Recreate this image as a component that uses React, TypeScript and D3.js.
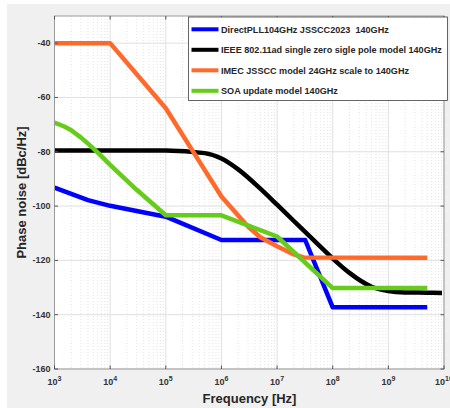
import React from "react";
import * as d3 from "d3";

const W = 450;
const H = 408;

const seriesNames = [
  "DirectPLL104GHz JSSCC2023  140GHz",
  "IEEE 802.11ad single zero sigle pole model 140GHz",
  "IMEC JSSCC model 24GHz scale to 140GHz",
  "SOA update model 140GHz",
];
const seriesColors = ["#0000ff", "#000000", "#ff6a2b", "#66cc1a"];

const blueFreq = [1e3, 2e3, 4e3, 1e4, 1e5, 1e6, 3.2e7, 1e8, 5e9];
const blueVal = [-93.2, -95.5, -97.8, -99.9, -103.9, -112.5, -112.5, -137.3, -137.3];

const blackFreq = [1e3, 1e4, 1e5, 5e5, 1e6, 2e6, 5e6, 1e7, 2e7, 5e7, 1e8, 2e8, 5e8, 1e9, 2e9, 5e9, 9.2e9];
const blackVal = [-79.5, -79.5, -79.5, -80.5, -82.5, -86.5, -93.6, -99.5, -105.5, -113.4, -119.3, -124.6, -129.7, -131.3, -131.8, -131.9, -132.0];

const orangeFreq = [1e3, 1e4, 1e5, 3e5, 1e6, 2e6, 3e6, 5e6, 1e7, 2e7, 3e7, 5e9];
const orangeVal = [-40, -40, -64, -79.5, -96.5, -103.5, -107.5, -111.5, -114.8, -117.8, -118.9, -119];

const greenFreq = [1e3, 1.5e3, 2e3, 3e3, 4e3, 6e3, 1e4, 3e4, 1e5, 1e6, 1e7, 1e8, 5e9];
const greenVal = [-69.3, -70.7, -72.1, -74.8, -77.0, -80.3, -84.8, -94.0, -103.4, -103.4, -111.2, -130.2, -130.2];

const yTicks = [-160, -140, -120, -100, -80, -60, -40];
const xTickExps = [3, 4, 5, 6, 7, 8, 9, 10];

const xLabel = "Frequency [Hz]";
const yLabel = "Phase noise [dBc/Hz]";

export default function App() {
  const left = 54.5, right = 444, top = 16, bottom = 369;
  const x = d3.scaleLog().domain([1e3, 1e10]).range([left, right]);
  const y = d3.scaleLinear().domain([-160, -30]).range([bottom, top]);

  const series = [
    { f: blueFreq, v: blueVal, curve: d3.curveLinear },
    { f: blackFreq, v: blackVal, curve: d3.curveMonotoneX },
    { f: orangeFreq, v: orangeVal, curve: d3.curveLinear },
    { f: greenFreq, v: greenVal, curve: d3.curveLinear },
  ];

  const minorX: number[] = [];
  for (let e = 3; e < 10; e++) for (let m = 2; m <= 9; m++) minorX.push(m * Math.pow(10, e));

  const font = "'Liberation Sans', Arial, sans-serif";
  const tickColor = "#333333";

  return (
    <svg width={W} height={H} style={{ position: "fixed", left: 0, top: 0 }} fontFamily={font}>
      <rect x={0} y={0} width={W} height={H} fill="#ffffff" />
      <rect x={7} y={4} width={W - 7} height={H - 4} fill="#f0f0f0" />
      <rect x={left} y={top} width={right - left} height={bottom - top} fill="#ffffff" />
      {minorX.map((f, i) => (
        <line key={"mx" + i} x1={x(f)} x2={x(f)} y1={top} y2={bottom} stroke="#d8d8d8" strokeWidth={0.7} strokeDasharray="1,2" />
      ))}
      {xTickExps.map((e) => (
        <line key={"gx" + e} x1={x(Math.pow(10, e))} x2={x(Math.pow(10, e))} y1={top} y2={bottom} stroke="#e0e0e0" strokeWidth={1} />
      ))}
      {yTicks.map((t) => (
        <line key={"gy" + t} x1={left} x2={right} y1={y(t)} y2={y(t)} stroke="#e0e0e0" strokeWidth={1} />
      ))}
      {series.map((s, i) => {
        const pts = s.f.map((f, j) => [x(f), y(s.v[j])] as [number, number]);
        const path = d3.line().curve(s.curve)(pts) || "";
        return <path key={"s" + i} d={path} fill="none" stroke={seriesColors[i]} strokeWidth={4.5} strokeLinejoin="round" />;
      })}
      <rect x={left} y={top} width={right - left} height={bottom - top} fill="none" stroke="#9a9a9a" strokeWidth={1} />
      {yTicks.map((t) => (
        <g key={"ty" + t}>
          <line x1={left} x2={left + 3.5} y1={y(t)} y2={y(t)} stroke="#555" strokeWidth={1} />
          <line x1={right} x2={right - 3.5} y1={y(t)} y2={y(t)} stroke="#555" strokeWidth={1} />
          <text x={left - 4} y={y(t) + 3} textAnchor="end" fontSize={9} fontWeight="bold" fill={tickColor}>
            {t}
          </text>
        </g>
      ))}
      {xTickExps.map((e) => {
        const px = x(Math.pow(10, e));
        return (
          <g key={"tx" + e}>
            <line x1={px} x2={px} y1={bottom} y2={bottom - 3.5} stroke="#555" strokeWidth={1} />
            <line x1={px} x2={px} y1={top} y2={top + 3.5} stroke="#555" strokeWidth={1} />
            <text x={px} y={385} textAnchor="middle" fontSize={9} fontWeight="bold" fill={tickColor}>
              10<tspan dy={-4} fontSize={7}>{e}</tspan>
            </text>
          </g>
        );
      })}
      <text x={249.5} y={403} textAnchor="middle" fontSize={13} fontWeight="bold" fill="#262626">
        {xLabel}
      </text>
      <text transform={`translate(25.5,${(top + bottom) / 2}) rotate(-90)`} textAnchor="middle" fontSize={13} fontWeight="bold" fill="#262626">
        {yLabel}
      </text>
      <g>
        <rect x={188.5} y={17} width={259} height={83.5} fill="#ffffff" stroke="#404040" strokeWidth={0.8} />
        {seriesNames.map((n, i) => {
          const ry = 29.3 + i * 20.5;
          return (
            <g key={"lg" + i}>
              <line x1={191.5} x2={218.5} y1={ry} y2={ry} stroke={seriesColors[i]} strokeWidth={4} />
              <text x={221} y={ry + 3.2} fontSize={9.1} fontWeight="bold" fill="#262626" style={{ whiteSpace: "pre" }}>
                {n}
              </text>
            </g>
          );
        })}
      </g>
    </svg>
  );
}
